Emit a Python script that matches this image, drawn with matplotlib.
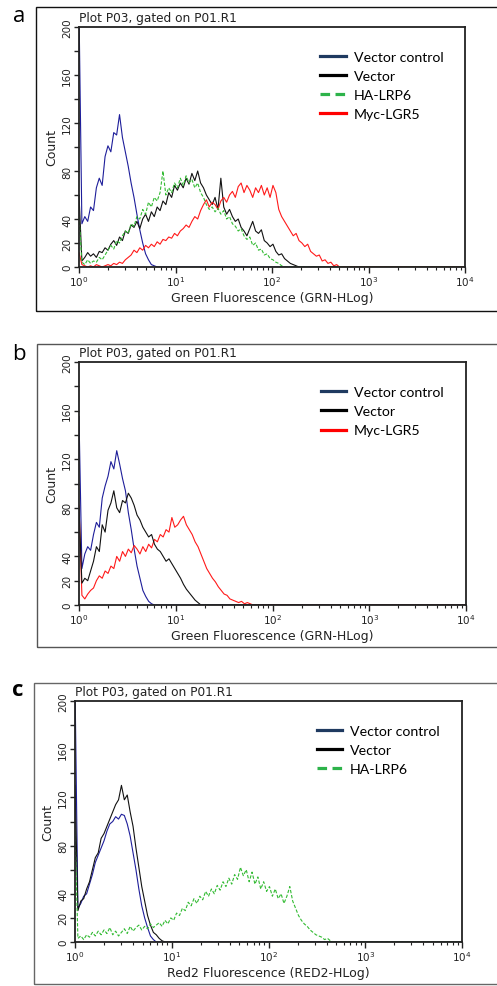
import numpy as np
import matplotlib
matplotlib.use("Agg")
import matplotlib.pyplot as plt
from matplotlib.lines import Line2D
from matplotlib.patches import Rectangle
from matplotlib.ticker import FixedLocator, LogLocator, NullFormatter

# ---------------- data (counts per histogram channel, 0.03 decade per channel from 10^0) ----------------
CHANNEL_DECADES = 0.03

a_vector_control = [215, 36, 42, 38, 50, 47, 66, 74, 68, 92, 101, 96, 112, 110, 127, 108, 96, 84, 70, 58,
                    44, 31, 20, 11, 6, 2, 1, 0]
a_vector = [60, 5, 8, 12, 9, 11, 8, 13, 12, 16, 14, 19, 22, 18, 25, 22, 30, 28, 35, 33,
            38, 32, 40, 44, 38, 46, 42, 50, 47, 55, 52, 62, 58, 68, 64, 70, 66, 74, 69, 78,
            72, 80, 70, 66, 60, 56, 52, 58, 48, 74, 50, 44, 48, 42, 38, 40, 33, 30, 26, 32,
            38, 30, 28, 31, 22, 20, 17, 19, 13, 10, 11, 7, 5, 3, 2, 1, 0]
a_ha_lrp6 = [42, 4, 2, 6, 3, 5, 4, 8, 6, 10, 14, 18, 15, 22, 20, 26, 30, 28, 36, 34,
             42, 40, 48, 44, 54, 50, 58, 55, 62, 80, 60, 66, 62, 70, 66, 74, 68, 76, 70, 73,
             66, 70, 62, 58, 52, 48, 50, 46, 49, 44, 47, 40, 42, 36, 34, 30, 32, 26, 23, 25,
             18, 20, 14, 15, 10, 11, 7, 6, 4, 3, 1, 0]
a_myc_lgr5 = [12, 2, 1, 0, 1, 0, 2, 1, 0, 1, 2, 1, 3, 2, 4, 3, 6, 8, 10, 14,
              12, 16, 14, 18, 16, 19, 17, 21, 19, 23, 22, 25, 24, 28, 26, 30, 32, 35, 33, 38,
              42, 40, 47, 52, 56, 50, 54, 52, 48, 55, 58, 54, 60, 63, 58, 67, 70, 62, 68, 64,
              58, 66, 62, 68, 60, 66, 58, 68, 62, 48, 42, 38, 34, 30, 26, 28, 22, 20, 17, 19,
              13, 11, 9, 10, 5, 6, 3, 4, 1, 2, 0]

b_vector_control = [155, 30, 42, 48, 45, 58, 68, 64, 88, 98, 106, 118, 112, 127, 116, 104, 94, 76, 62, 46,
                    32, 22, 12, 7, 3, 1, 0]
b_vector = [80, 18, 22, 20, 28, 36, 48, 44, 66, 60, 78, 84, 94, 80, 76, 86, 84, 92, 88, 82,
            74, 70, 64, 60, 56, 58, 50, 46, 44, 40, 36, 38, 34, 30, 26, 22, 17, 13, 10, 7,
            4, 2, 0]
b_myc_lgr5 = [82, 8, 5, 9, 12, 14, 20, 24, 22, 28, 26, 32, 30, 40, 36, 44, 40, 46, 43, 49,
              46, 42, 48, 44, 50, 47, 54, 52, 58, 56, 62, 60, 72, 64, 66, 70, 73, 66, 62, 58,
              52, 48, 42, 36, 30, 26, 22, 19, 15, 12, 9, 8, 5, 4, 3, 2, 3, 1, 2, 1, 0]

c_vector_control = [215, 28, 32, 38, 40, 48, 56, 66, 72, 78, 84, 92, 98, 100, 104, 102, 106, 105, 98, 88,
                    74, 60, 44, 30, 20, 12, 5, 2, 0]
c_vector = [130, 26, 34, 36, 44, 50, 60, 70, 74, 86, 90, 96, 102, 108, 114, 118, 130, 118, 122, 108,
            96, 78, 62, 46, 34, 22, 14, 8, 6, 3, 1, 0]
c_ha_lrp6 = [92, 3, 5, 2, 6, 4, 8, 5, 9, 6, 10, 7, 12, 6, 9, 5, 8, 11, 7, 13,
             9, 12, 14, 10, 13, 11, 15, 12, 14, 16, 13, 18, 15, 20, 18, 24, 22, 28, 26, 33,
             30, 36, 32, 38, 35, 42, 38, 44, 40, 47, 43, 50, 46, 53, 48, 56, 52, 62, 55, 60,
             50, 58, 48, 54, 44, 50, 42, 46, 38, 44, 36, 40, 32, 38, 46, 34, 28, 22, 18, 15,
             13, 10, 8, 6, 5, 4, 2, 3, 1, 0]

y_ticks = [0, 20, 40, 60, 80, 100, 120, 140, 160, 180, 200]
y_tick_labels = ["0", "20", "40", "", "80", "", "120", "", "160", "", "200"]
x_limits = (1, 1e4)
y_limits = (0, 200)

title_text = "Plot P03, gated on P01.R1"
green_xlabel = "Green Fluorescence (GRN-HLog)"
red_xlabel = "Red2 Fluorescence (RED2-HLog)"

# ---------------- styles ----------------
LINE_COLORS = {"Vector control": "#1e1e9a", "Vector": "#111111",
               "HA-LRP6": "#33bb33", "Myc-LGR5": "#ff1a1a"}
LEGEND_COLORS = {"Vector control": "#1f3a60", "Vector": "#000000",
                 "HA-LRP6": "#2db34a", "Myc-LGR5": "#ff0000"}

W, H = 497, 987


def fig_box(left, top, right, bottom):
    return [left / W, 1 - bottom / H, (right - left) / W, (bottom - top) / H]


panels = [
    dict(letter="a", letter_bold=False, letter_xy=(19, 16),
         axes=(79, 28, 465, 268), frame=(36, 8, 500, 312), frame_color="#111111",
         xlabel=green_xlabel,
         series=[("Vector control", a_vector_control), ("Vector", a_vector),
                 ("Myc-LGR5", a_myc_lgr5), ("HA-LRP6", a_ha_lrp6)],
         legend=["Vector control", "Vector", "HA-LRP6", "Myc-LGR5"]),
    dict(letter="b", letter_bold=False, letter_xy=(19, 355),
         axes=(79, 363, 466, 606), frame=(37, 345, 500, 648), frame_color="#555555",
         xlabel=green_xlabel,
         series=[("Vector control", b_vector_control), ("Myc-LGR5", b_myc_lgr5),
                 ("Vector", b_vector)],
         legend=["Vector control", "Vector", "Myc-LGR5"]),
    dict(letter="c", letter_bold=True, letter_xy=(18, 691),
         axes=(75, 702, 462, 943), frame=(34, 684, 500, 985), frame_color="#666666",
         xlabel=red_xlabel,
         series=[("Vector control", c_vector_control), ("Vector", c_vector),
                 ("HA-LRP6", c_ha_lrp6)],
         legend=["Vector control", "Vector", "HA-LRP6"]),
]

fig = plt.figure(figsize=(W / 100, H / 100), dpi=100)
fig.patch.set_facecolor("white")

for p in panels:
    l, t, r, b = p["frame"]
    fig.add_artist(Rectangle((l / W, 1 - b / H), (r - l) / W, (b - t) / H,
                             transform=fig.transFigure, fill=False,
                             edgecolor=p["frame_color"], linewidth=1.0))
    fig.text(p["letter_xy"][0] / W, 1 - p["letter_xy"][1] / H, p["letter"],
             fontsize=16, family="Open Sans",
             fontweight="bold" if p["letter_bold"] else "normal",
             ha="center", va="center")

    ax = fig.add_axes(fig_box(*p["axes"]))
    for name, counts in p["series"]:
        x = 10 ** (np.arange(len(counts)) * CHANNEL_DECADES)
        x = np.append(x, x_limits[1])
        y = np.append(np.asarray(counts, dtype=float), 0)
        ls = (0, (3, 1.6)) if name == "HA-LRP6" else "-"
        ax.plot(x, y, color=LINE_COLORS[name], lw=0.8, ls=ls)

    ax.set_xscale("log")
    ax.set_xlim(*x_limits)
    ax.set_ylim(*y_limits)
    ax.xaxis.set_major_locator(LogLocator(base=10, numticks=10))
    ax.xaxis.set_minor_locator(LogLocator(base=10, subs=np.arange(2, 10), numticks=20))
    ax.xaxis.set_minor_formatter(NullFormatter())
    ax.yaxis.set_major_locator(FixedLocator(y_ticks))
    ax.set_yticklabels(y_tick_labels, rotation=90, va="center")
    ax.tick_params(axis="x", which="major", length=4, width=1.0, pad=1.5,
                   labelsize=7.5, colors="#222222")
    ax.tick_params(axis="x", which="minor", length=2.5, width=0.8, colors="#222222")
    ax.tick_params(axis="y", which="major", length=3.5, width=1.0, pad=1.5,
                   labelsize=7.5, colors="#222222")
    for s in ax.spines.values():
        s.set_color("#222222")
        s.set_linewidth(1.3)

    ax.set_ylabel("Count", fontsize=9, labelpad=3, color="#222222")
    ax.set_xlabel(p["xlabel"], fontsize=9, labelpad=2, color="#222222")
    ax.annotate(title_text, xy=(0, 1), xycoords="axes fraction", xytext=(0, 2.5),
                textcoords="offset points", ha="left", va="bottom", fontsize=8.7,
                color="#222222")

    handles = []
    for name in p["legend"]:
        ls = (0, (3.0, 1.7)) if name == "HA-LRP6" else "-"
        handles.append(Line2D([0], [0], color=LEGEND_COLORS[name], lw=2.3, ls=ls))
    ax.legend(handles, p["legend"], loc="upper left", bbox_to_anchor=(0.625, 0.90),
              frameon=False, handlelength=1.8, handletextpad=0.55,
              labelspacing=0.5, borderpad=0, borderaxespad=0,
              prop={"family": "Lato", "size": 10.2})

fig.savefig("out.png", dpi=100)
